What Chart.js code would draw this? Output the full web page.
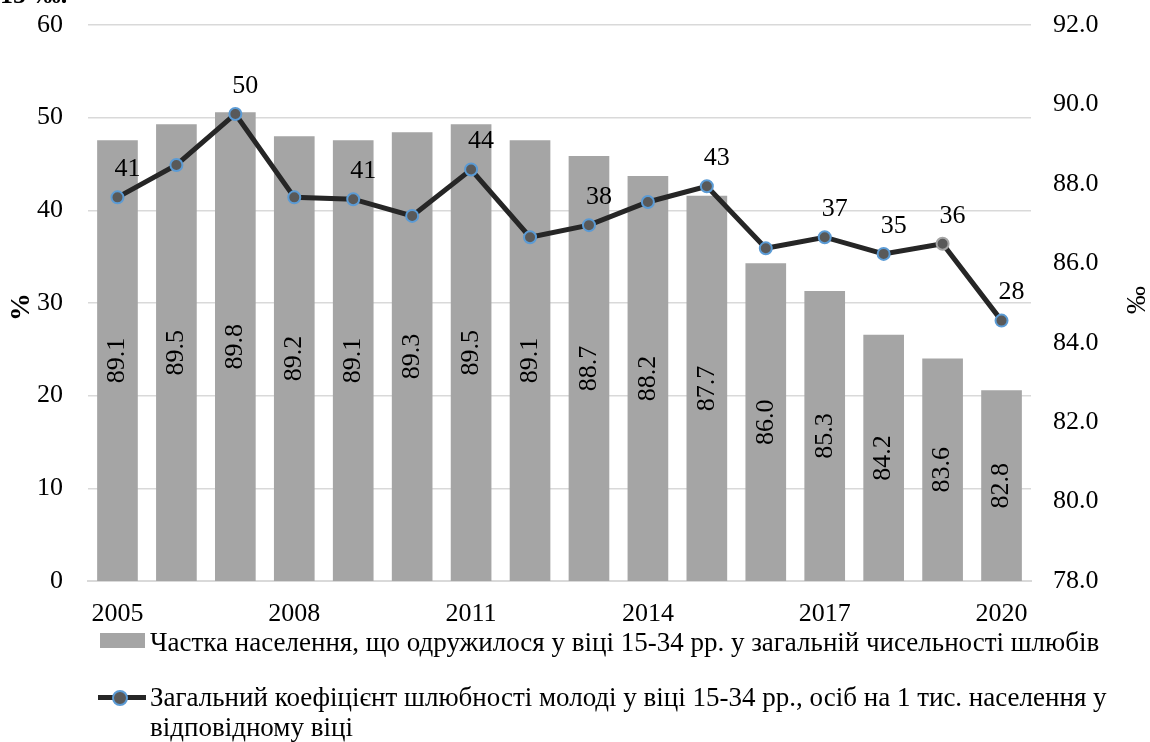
<!DOCTYPE html>
<html>
<head>
<meta charset="utf-8">
<script src="https://cdn.jsdelivr.net/npm/chart.js@4.4.1/dist/chart.umd.min.js"></script>
<style>
  body { margin: 0; background: #fff; }
  #wrap { position: relative; width: 1150px; height: 742px; overflow: hidden;
          font-family: "Liberation Serif", "Times New Roman", serif; color: #000; }
  #chart { position: absolute; left: 0; top: 0; }
  .leg { position: absolute; left: 150px; font-size: 27px; line-height: 30px; white-space: nowrap; }
  .swatch { position: absolute; left: 100px; top: 633px; width: 45px; height: 15px; background: #a5a5a5; }
  .lline { position: absolute; left: 98px; top: 695px; width: 48px; height: 5px; background: #262626; }
  .ldot { position: absolute; left: 112px; top: 690px; width: 12px; height: 12px; border-radius: 50%;
          background: #595959; border: 2px solid #5b9bd5; }
</style>
</head>
<body>
<div id="wrap">
  <canvas id="chart" width="1150" height="742"></canvas>
  <div class="swatch"></div>
  <div class="leg" style="top:627px">Частка населення, що одружилося у віці 15-34 рр. у загальній чисельності шлюбів</div>
  <div class="lline"></div>
  <div class="ldot"></div>
  <div class="leg" style="top:682px">Загальний коефіцієнт шлюбності молоді у віці 15-34 рр., осіб на 1 тис. населення у<br>відповідному віці</div>
</div>
<script>
const years = ['2005', '2006', '2007', '2008', '2009', '2010', '2011', '2012', '2013', '2014', '2015', '2016', '2017', '2018', '2019', '2020'];
// bars (drawn against the right axis)
const shareVals = [89.1, 89.5, 89.8, 89.2, 89.1, 89.3, 89.5, 89.1, 88.7, 88.2, 87.7, 86.0, 85.3, 84.2, 83.6, 82.8];
// line (drawn against the left axis)
const rateVals = [41.4, 44.9, 50.4, 41.4, 41.2, 39.4, 44.4, 37.1, 38.4, 40.9, 42.6, 35.9, 37.1, 35.3, 36.4, 28.1];
const labelIdx = [0, 2, 4, 6, 8, 10, 12, 13, 14, 15];
const shownYears = ['2005', '2008', '2011', '2014', '2017', '2020'];

const FONT = '"Liberation Serif", "Times New Roman", serif';

const extras = {
  id: 'extras',
  afterDatasetsDraw(chart) {
    const ctx = chart.ctx;
    const xs = chart.scales.x, ys = chart.scales.y1;
    const bottom = chart.chartArea.bottom;
    ctx.save();
    ctx.fillStyle = '#000';
    ctx.font = '26px ' + FONT;
    ctx.textAlign = 'center';
    ctx.textBaseline = 'middle';
    shareVals.forEach((v, i) => {
      const top = ys.getPixelForValue(v);
      ctx.save();
      ctx.translate(xs.getPixelForValue(i), (top + bottom) / 2);
      ctx.rotate(-Math.PI / 2);
      ctx.fillText(v.toFixed(1), 0, 0);
      ctx.restore();
    });
    const pts = chart.getDatasetMeta(0).data;
    ctx.textAlign = 'left';
    labelIdx.forEach(i => {
      ctx.fillText(Math.round(rateVals[i]), pts[i].x - 3, pts[i].y - 28);
    });
    ctx.restore();
  },
  afterDraw(chart) {
    const ctx = chart.ctx;
    ctx.save();
    ctx.fillStyle = '#000';
    ctx.textBaseline = 'middle';
    ctx.textAlign = 'center';
    ctx.save();
    ctx.translate(22, 307);
    ctx.rotate(-Math.PI / 2);
    ctx.font = 'bold 28px ' + FONT;
    ctx.fillText('%', 0, 0);
    ctx.restore();
    ctx.save();
    ctx.translate(1138, 300);
    ctx.rotate(-Math.PI / 2);
    ctx.font = '28px ' + FONT;
    ctx.fillText('‰', 0, 0);
    ctx.restore();
    ctx.textAlign = 'left';
    ctx.textBaseline = 'alphabetic';
    ctx.font = 'bold 26px ' + FONT;
    ctx.fillText('15-‰.', 0, 3);
    ctx.restore();
  }
};

// keep the tick padding from pushing the plot area down
const fitY = w => s => { s.width = w; s.paddingTop = 0; s.paddingBottom = 0; };

new Chart(document.getElementById('chart'), {
  data: {
    labels: years,
    datasets: [{
      type: 'line',
      label: 'Загальний коефіцієнт шлюбності молоді у віці 15-34 рр., осіб на 1 тис. населення у відповідному віці',
      data: rateVals,
      yAxisID: 'y',
      borderColor: '#262626',
      borderWidth: 5,
      pointRadius: 6,
      pointBorderWidth: 2,
      pointBackgroundColor: '#595959',
      pointBorderColor: rateVals.map((v, i) => i === 14 ? '#a5a5a5' : '#5b9bd5'),
      tension: 0,
      order: 0
    }, {
      type: 'bar',
      label: 'Частка населення, що одружилося у віці 15-34 рр. у загальній чисельності шлюбів',
      data: shareVals,
      yAxisID: 'y1',
      backgroundColor: '#a5a5a5',
      categoryPercentage: 1,
      barPercentage: 0.69,
      order: 1
    }]
  },
  options: {
    responsive: false,
    devicePixelRatio: 1,
    animation: false,
    layout: { padding: { top: 25, left: 0, right: 0, bottom: 0 } },
    plugins: { legend: { display: false }, tooltip: { enabled: false } },
    scales: {
      x: {
        grid: { display: false },
        border: { display: true, color: '#d9d9d9', width: 2 },
        ticks: {
          autoSkip: false, maxRotation: 0, padding: 10, color: '#000',
          font: { family: FONT, size: 26 },
          callback: (v, i) => shownYears.includes(years[i]) ? years[i] : ''
        },
        afterFit: s => { s.height = 161; }
      },
      y: {
        position: 'left',
        min: 0, max: 60,
        grid: { color: '#d9d9d9', lineWidth: 1.5, drawTicks: false },
        border: { display: false },
        ticks: { stepSize: 10, padding: 25, color: '#000', font: { family: FONT, size: 26 } },
        afterFit: fitY(88)
      },
      y1: {
        position: 'right',
        min: 78, max: 92,
        grid: { drawOnChartArea: false, drawTicks: false },
        border: { display: false },
        ticks: {
          stepSize: 2, padding: 22, color: '#000', font: { family: FONT, size: 26 },
          callback: v => v.toFixed(1)
        },
        afterFit: fitY(119)
      }
    }
  },
  plugins: [extras]
});
</script>
</body>
</html>
